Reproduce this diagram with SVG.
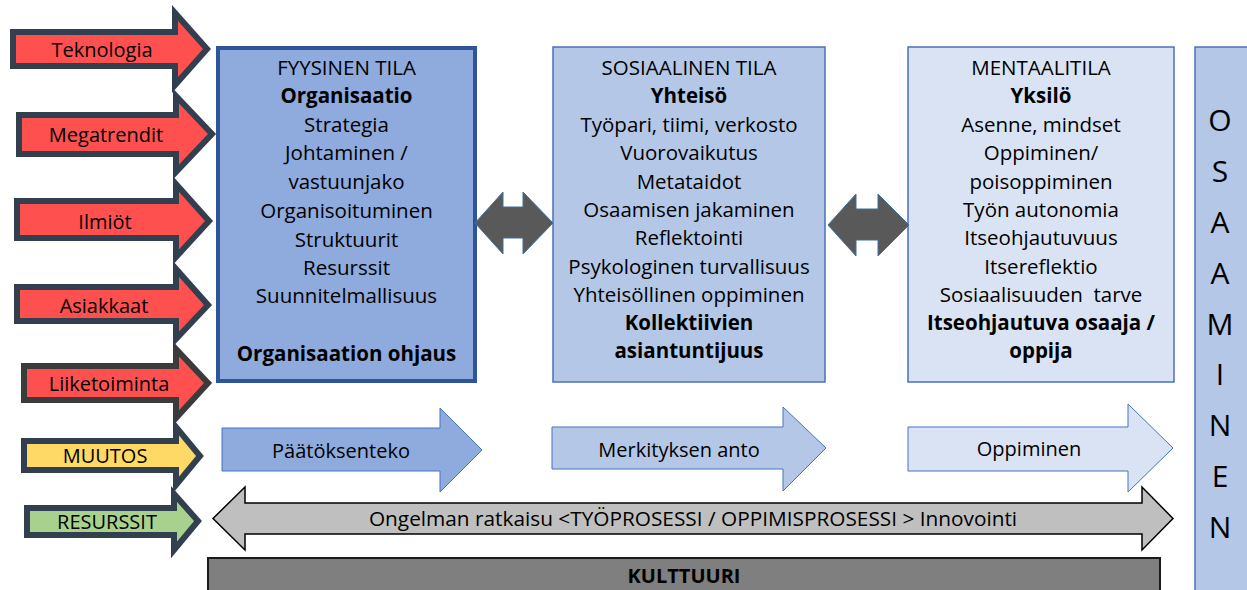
<svg xmlns="http://www.w3.org/2000/svg" width="1247" height="590" viewBox="0 0 1247 590">
<style>
text{font-family:"Open Sans","Liberation Sans",sans-serif;fill:#000;text-anchor:middle}
.lbl{font-size:20px}
.bx{font-size:20.5px}
.b{font-weight:700}
.osa{font-size:30px}
.in{stroke:#323F4F;stroke-width:6;stroke-linejoin:miter;stroke-miterlimit:10}
.red{fill:#FF5050}
</style>
<rect width="1247" height="590" fill="#fff"/>
<g id="osaaminen">
<rect x="1195" y="47" width="60" height="560" fill="#B4C7E7" stroke="#4A72B8" stroke-width="1.5"/>
<text class="osa" x="1220" y="131">O</text>
<text class="osa" x="1220" y="182">S</text>
<text class="osa" x="1220" y="233">A</text>
<text class="osa" x="1220" y="284">A</text>
<text class="osa" x="1220" y="335">M</text>
<text class="osa" x="1220" y="385">I</text>
<text class="osa" x="1220" y="436">N</text>
<text class="osa" x="1220" y="487">E</text>
<text class="osa" x="1220" y="538">N</text>
</g>
<g id="kulttuuri">
<rect x="208" y="558" width="952" height="40" fill="#7F7F7F" stroke="#1A1A1A" stroke-width="2"/>
<text class="lbl b" x="684" y="583">KULTTUURI</text>
</g>
<g id="in-teknologia">
<polygon class="in red" points="13,32 175,32 175,13 207,49 175,85 175,66 13,66"/>
<text class="lbl" x="102" y="57">Teknologia</text>
</g>
<g id="in-megatrendit">
<polygon class="in red" points="19,115 176,115 176,96 212,134 176,172 176,154 19,154"/>
<text class="lbl" x="106" y="142">Megatrendit</text>
</g>
<g id="in-ilmiot">
<polygon class="in red" points="17,201 176,201 176,184 209,221 176,257 176,238 17,238"/>
<text class="lbl" x="105" y="229">Ilmiöt</text>
</g>
<g id="in-asiakkaat">
<polygon class="in red" points="17,287 176,287 176,269 208,305 176,339 176,321 17,321"/>
<text class="lbl" x="104" y="313">Asiakkaat</text>
</g>
<g id="in-liiketoiminta">
<polygon class="in red" style="stroke:#3B3B3B" points="24,366 176,366 176,349 208,383 176,418 176,400 24,400"/>
<text class="lbl" x="109" y="391">Liiketoiminta</text>
</g>
<g id="in-muutos">
<polygon class="in" fill="#FFD966" points="24,441 176,441 176,427 200,456 176,485 176,470 24,470"/>
<text class="lbl" x="105" y="463">MUUTOS</text>
</g>
<g id="in-resurssit">
<polygon class="in" fill="#A9D18E" points="27,508 174,508 174,494 198,521 174,550 174,535 27,535"/>
<text class="lbl" x="107" y="529">RESURSSIT</text>
</g>
<g id="fyysinen">
<rect x="218" y="48" width="257" height="333" fill="#8FAADC" stroke="#2F5597" stroke-width="4"/>
<text class="bx" x="346.5" y="75">FYYSINEN TILA</text>
<text class="bx b" x="346.5" y="103">Organisaatio</text>
<text class="bx" x="346.5" y="132">Strategia</text>
<text class="bx" x="346.5" y="160">Johtaminen /</text>
<text class="bx" x="346.5" y="189">vastuunjako</text>
<text class="bx" x="346.5" y="218">Organisoituminen</text>
<text class="bx" x="346.5" y="247">Struktuurit</text>
<text class="bx" x="346.5" y="275">Resurssit</text>
<text class="bx" x="346.5" y="303">Suunnitelmallisuus</text>
<text class="bx b" x="346.5" y="361">Organisaation ohjaus</text>
</g>
<g id="sosiaalinen">
<rect x="553" y="47" width="272" height="335" fill="#B4C7E7" stroke="#4A72B8" stroke-width="1.5"/>
<text class="bx" x="689" y="75">SOSIAALINEN TILA</text>
<text class="bx b" x="689" y="103">Yhteisö</text>
<text class="bx" x="689" y="132">Työpari, tiimi, verkosto</text>
<text class="bx" x="689" y="160">Vuorovaikutus</text>
<text class="bx" x="689" y="189">Metataidot</text>
<text class="bx" x="689" y="217">Osaamisen jakaminen</text>
<text class="bx" x="689" y="245">Reflektointi</text>
<text class="bx" x="689" y="274">Psykologinen turvallisuus</text>
<text class="bx" x="689" y="302">Yhteisöllinen oppiminen</text>
<text class="bx b" x="689" y="330">Kollektiivien</text>
<text class="bx b" x="689" y="358">asiantuntijuus</text>
</g>
<g id="mentaali">
<rect x="908" y="47" width="266" height="335" fill="#DAE3F3" stroke="#4A72B8" stroke-width="1.5"/>
<text class="bx" x="1041" y="75">MENTAALITILA</text>
<text class="bx b" x="1041" y="103">Yksilö</text>
<text class="bx" x="1041" y="132">Asenne, mindset</text>
<text class="bx" x="1041" y="160">Oppiminen/</text>
<text class="bx" x="1041" y="189">poisoppiminen</text>
<text class="bx" x="1041" y="217">Työn autonomia</text>
<text class="bx" x="1041" y="245">Itseohjautuvuus</text>
<text class="bx" x="1041" y="274">Itsereflektio</text>
<text class="bx" x="1041" y="302" style="white-space:pre">Sosiaalisuuden  tarve</text>
<text class="bx b" x="1041" y="330">Itseohjautuva osaaja /</text>
<text class="bx b" x="1041" y="358">oppija</text>
</g>
<g id="connectors">
<polygon fill="#595959" stroke="#41719C" stroke-width="1" points="475,223 503,192 503,207 523,207 523,192 553,223 523,254 523,238 503,238 503,254"/>
<polygon fill="#595959" stroke="#41719C" stroke-width="1" points="828,225 856,194 856,209 878,209 878,194 909,225 878,256 878,240 856,240 856,256"/>
</g>
<g id="paatoksenteko">
<polygon fill="#8FAADC" stroke="#4472C4" stroke-width="1" points="222,428 440,428 440,408 482,450 440,492 440,471 222,471"/>
<text class="lbl" x="341" y="458">Päätöksenteko</text>
</g>
<g id="merkityksen">
<polygon fill="#B4C7E7" stroke="#4472C4" stroke-width="1" points="552,427 783,427 783,407 826,448 783,491 783,469 552,469"/>
<text class="lbl" x="679" y="457">Merkityksen anto</text>
</g>
<g id="oppiminen">
<polygon fill="#DAE3F3" stroke="#4472C4" stroke-width="1" points="908,427 1128,427 1128,404 1173,448 1128,492 1128,471 908,471"/>
<text class="lbl" x="1029" y="456">Oppiminen</text>
</g>
<g id="prosessi">
<polygon fill="#BFBFBF" stroke="#000" stroke-width="1.5" points="213,518.5 245,487 245,503 1142,503 1142,487 1173,518.5 1142,550 1142,534 245,534 245,550"/>
<text class="lbl" x="693" y="526" style="font-size:20.8px">Ongelman ratkaisu &lt;TYÖPROSESSI / OPPIMISPROSESSI &gt; Innovointi</text>
</g>
</svg>
